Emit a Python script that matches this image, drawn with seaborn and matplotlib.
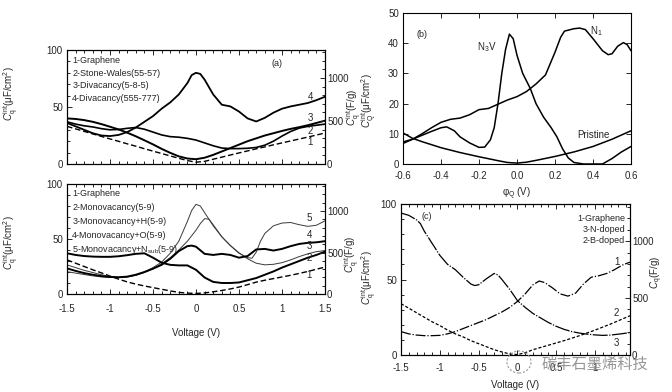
import numpy as np
import pandas as pd
import matplotlib
matplotlib.use("Agg")
import matplotlib.pyplot as plt
import seaborn as sns
from matplotlib.ticker import MultipleLocator
from matplotlib.patches import Ellipse

sns.set_style("ticks")
plt.rcParams['font.family'] = ['Liberation Sans', 'DejaVu Sans']
plt.rcParams['mathtext.fontset'] = 'custom'
plt.rcParams['mathtext.rm'] = 'Liberation Sans'
plt.rcParams['mathtext.it'] = 'Liberation Sans:italic'
plt.rcParams['mathtext.bf'] = 'Liberation Sans:bold'
plt.rcParams['axes.linewidth'] = 0.8
plt.rcParams['axes.edgecolor'] = 'black'

# ---------------- data: panel (a) top ----------------
Va = [-1.5, -1.4, -1.3, -1.2, -1.1, -1.0, -0.9, -0.8, -0.7, -0.6, -0.5, -0.4, -0.3, -0.2, -0.1,
      0.0, 0.1, 0.2, 0.3, 0.4, 0.5, 0.6, 0.7, 0.8, 0.9, 1.0, 1.1, 1.2, 1.3, 1.4, 1.5]
a_graphene = [33, 30.8, 28.6, 26.4, 24.2, 22, 19.9, 17.7, 15.6, 13.4, 11.3, 9.2, 7.1, 5, 3,
              1.6, 2.3, 4.2, 6.0, 7.9, 9.7, 11.5, 13.3, 15.0, 16.8, 18.5, 20.2, 21.9, 23.6, 25.4, 27.2]
a_stonewales = [37, 35, 33.5, 32.5, 31, 30, 30.3, 31.3, 32, 30.5, 28, 25.5, 24, 23.5, 22.5,
                21, 18.5, 16, 14, 13.5, 13.5, 13.8, 14.5, 16.5, 20, 24.5, 28.5, 31.5, 33, 34, 35]
a_div585 = [40, 39.5, 38.5, 37, 35, 32.7, 30.3, 27.5, 24.3, 20.8, 17.2, 13.3, 9.8, 6.7, 4.8,
            4.2, 5.5, 8, 11, 14, 17, 20, 22.5, 25, 27, 29, 30.8, 32.3, 34, 36, 38]
Va_555 = [-1.5, -1.4, -1.3, -1.2, -1.1, -1.0, -0.9, -0.8, -0.7, -0.6, -0.5, -0.4, -0.3, -0.2, -0.1,
          -0.05, 0.0, 0.05, 0.1, 0.2, 0.3, 0.4, 0.5, 0.6, 0.7, 0.8, 0.9, 1.0, 1.1, 1.2, 1.3, 1.4, 1.5]
a_div555 = [36, 33, 30, 27, 25, 24.5, 25.5, 28, 32, 37, 42, 48.5, 54, 61, 71,
            78, 80, 79, 74, 61, 52, 50.5, 46, 40, 37.3, 40.5, 45, 48.5, 50.5, 52, 53.5, 56, 59]
legend_a = ["1-Graphene", "2-Stone-Wales(55-57)", "3-Divacancy(5-8-5)", "4-Divacancy(555-777)"]

# ---------------- data: panel (a) bottom ----------------
m_graphene = [31, 28, 25, 22, 19.2, 16.3, 13.5, 11, 9, 7.3, 5.8, 4.3, 2.8, 1.5, 0.8,
              0.5, 1, 2, 3.2, 4.6, 6.3, 8.5, 10.8, 12.5, 14, 15.5, 17, 18.7, 20.5, 22.5, 24.5]
m_mono = [37, 35.5, 34.5, 34, 33.8, 33.8, 34.3, 35.3, 36.5, 37, 33, 28.5, 26.5, 26, 26,
          22, 15, 11, 10, 10, 10.5, 12.5, 14.5, 17.5, 20.5, 24, 27, 30, 33, 35.5, 38.5]
Vm_H = [-1.5, -1.4, -1.3, -1.2, -1.1, -1.0, -0.9, -0.8, -0.7, -0.6, -0.5, -0.4, -0.3, -0.2, -0.1,
        0.0, 0.05, 0.1, 0.15, 0.2, 0.3, 0.4, 0.5, 0.6, 0.7, 0.8, 0.9, 1.0, 1.1, 1.2, 1.3, 1.4, 1.5]
m_monoH = [26.4, 24, 21.5, 19.5, 17.5, 16, 15.3, 15.5, 17, 19.5, 23, 27.5, 33, 40, 48,
           58, 64, 68.5, 68, 63, 52, 44, 37.5, 32, 28, 26.5, 27, 28.5, 31, 34, 36.5, 38.5, 39.5]
Vm_O = [-1.5, -1.4, -1.3, -1.2, -1.1, -1.0, -0.9, -0.8, -0.7, -0.6, -0.5, -0.4, -0.3, -0.2, -0.1,
        -0.05, 0.0, 0.1, 0.2, 0.3, 0.4, 0.5, 0.6, 0.7, 0.8, 0.9, 1.0, 1.1, 1.2, 1.3, 1.4, 1.5]
m_monoO = [23.3, 21, 19, 17.5, 16.3, 15.5, 15.2, 15.8, 17.5, 20, 23, 26.5, 32, 39, 43.5,
           44, 43, 36.5, 35.5, 36.5, 35.5, 33, 34.5, 40.5, 41, 39.5, 41, 43.5, 45.5, 46.5, 47, 48]
Vm_N = [-1.5, -1.4, -1.3, -1.2, -1.1, -1.0, -0.9, -0.8, -0.7, -0.6, -0.5, -0.4, -0.3, -0.2, -0.1,
        -0.05, 0.0, 0.05, 0.1, 0.2, 0.3, 0.4, 0.5, 0.6, 0.65, 0.7, 0.75, 0.8, 0.9, 1.0, 1.1, 1.2, 1.3, 1.4, 1.5]
m_monoN = [20.3, 19, 17.7, 16.5, 15.5, 15, 15, 15.5, 17, 20, 24, 29, 37, 48, 66,
           76, 81.5, 80, 74, 62, 52, 44, 37, 33, 32.5, 38, 48, 55, 62, 64.5, 65, 63, 61.5, 62.5, 66.5]
legend_m = ["1-Graphene", "2-Monovacancy(5-9)", "3-Monovacancy+H(5-9)",
            "4-Monovacancy+O(5-9)", "5-Monovacancy+N$_{\\rm sub}$(5-9)"]

# ---------------- data: panel (b) ----------------
Vb_pristine = [-0.6, -0.55, -0.5, -0.4, -0.3, -0.2, -0.1, -0.05, 0.0, 0.05, 0.1, 0.2, 0.3, 0.4, 0.5, 0.6]
b_pristine = [10.3, 8.5, 7.4, 5.4, 3.8, 2.4, 1.1, 0.5, 0.3, 0.6, 1.2, 2.5, 4.0, 5.8, 8.2, 11.0]
Vb_n1 = [-0.6, -0.55, -0.5, -0.45, -0.4, -0.35, -0.3, -0.25, -0.2, -0.15, -0.1, -0.05, 0.0, 0.05, 0.1,
         0.15, 0.2, 0.23, 0.25, 0.3, 0.33, 0.36, 0.4, 0.45, 0.48, 0.5, 0.53, 0.56, 0.58, 0.6]
b_n1 = [6.8, 8.2, 10, 12, 13.8, 14.8, 15.2, 16.3, 18, 18.4, 19.8, 21.2, 22.3, 24, 26.5,
        29.5, 37, 42, 44, 44.8, 45, 44.5, 41.5, 37.5, 36.2, 36.5, 39, 40.2, 39.5, 37.5]
Vb_n3v = [-0.6, -0.55, -0.5, -0.45, -0.4, -0.37, -0.33, -0.3, -0.25, -0.2, -0.17, -0.14, -0.12, -0.1,
          -0.08, -0.06, -0.04, -0.02, 0.0, 0.03, 0.07, 0.1, 0.14, 0.18, 0.21, 0.24, 0.27, 0.3, 0.35,
          0.45, 0.5, 0.55, 0.6]
b_n3v = [7.3, 8.2, 9.5, 10.8, 12, 12.3, 11, 9, 7, 5.5, 5.6, 8, 12, 20,
         30, 38, 43, 41.5, 36, 30, 25, 20, 15.5, 12, 9, 5, 2, 0.5, 0,
         0, 1.8, 4, 5.8]

# ---------------- data: panel (c) ----------------
Vc_1 = [-1.5, -1.4, -1.3, -1.2, -1.1, -1.0, -0.9, -0.8, -0.7, -0.6, -0.5, -0.4, -0.3, -0.2, -0.1,
        0.0, 0.1, 0.2, 0.28, 0.35, 0.45, 0.55, 0.65, 0.75, 0.85, 0.95, 1.05, 1.15, 1.25, 1.35, 1.45]
c_curve1 = [15.5, 14, 13.2, 12.8, 12.8, 13, 14, 15.5, 17.5, 19.5, 21.5, 23.5, 26, 28.5, 31.5,
            35.5, 40.5, 46.5, 49, 48, 44.5, 40.5, 39, 41, 47, 51.5, 52.5, 54, 56.5, 59.5, 61.5]
Vc_2 = [-1.5, -1.4, -1.3, -1.2, -1.1, -1.0, -0.9, -0.8, -0.7, -0.6, -0.5, -0.4, -0.3, -0.2, -0.1,
        0.0, 0.1, 0.2, 0.4, 0.6, 0.8, 1.0, 1.2, 1.45]
c_curve2 = [34, 31, 28, 25, 22, 19.5, 16.5, 14, 12, 9.5, 7.5, 5.5, 3.5, 2, 0.7,
            0.3, 1.5, 3.5, 6.5, 9.5, 12.8, 16.5, 20.5, 26]
Vc_3 = [-1.5, -1.4, -1.3, -1.25, -1.2, -1.1, -1.0, -0.9, -0.8, -0.7, -0.6, -0.55, -0.5, -0.4, -0.3,
        -0.25, -0.2, -0.1, 0.0, 0.1, 0.2, 0.3, 0.4, 0.5, 0.6, 0.7, 0.8, 0.9, 1.0, 1.1, 1.2, 1.3, 1.45]
c_curve3 = [94, 92.5, 89.5, 87, 82, 74, 66, 60, 56.5, 51.5, 47, 46, 46.5, 50.5, 54,
            53, 50, 43.5, 36, 31.5, 27.5, 24.5, 21.5, 19, 17, 15.5, 14.5, 13.8, 13.3, 13, 13.2, 13.8, 14.8]
legend_c = ["1-Graphene", "3-N-doped", "2-B-doped"]

CONV = 13.26  # F/g per uF/cm2 (right axis)

W, H = 672, 392
fig = plt.figure(figsize=(W / 100, H / 100), dpi=100)


def box(l, r, t, b):
    return [l / W, (H - b) / H, (r - l) / W, (b - t) / H]


TFS = 7
LFS = 6.5

ylab_q = "$C_{\\rm q}^{\\rm int}$(μF/cm$^2$)"
ylab_fg = "$C_{\\rm q}^{\\rm int}$(F/g)"


def style_axis(ax, xmaj, xmin, ymaj, ymin, xpad):
    ax.xaxis.set_major_locator(MultipleLocator(xmaj))
    ax.yaxis.set_major_locator(MultipleLocator(ymaj))
    if xmin:
        ax.xaxis.set_minor_locator(MultipleLocator(xmin))
    if ymin:
        ax.yaxis.set_minor_locator(MultipleLocator(ymin))
    ax.tick_params(which='both', direction='in', top=True, labelsize=TFS, width=0.7)
    ax.tick_params(which='major', length=3.5)
    ax.tick_params(which='minor', length=2)
    ax.tick_params(axis='x', pad=xpad)
    ax.tick_params(axis='y', pad=3)
    for s in ax.spines.values():
        s.set_visible(True)
        s.set_linewidth(0.8)


def right_axis(ax, label, ly):
    tw = ax.twinx()
    tw.set_ylim(0, 100 * CONV)
    tw.yaxis.set_major_locator(MultipleLocator(500))
    tw.yaxis.set_minor_locator(MultipleLocator(100))
    tw.tick_params(which='both', direction='in', labelsize=TFS, width=0.7, pad=1.5)
    tw.tick_params(which='major', length=3.5)
    tw.tick_params(which='minor', length=2)
    tw.set_ylabel(label, fontsize=TFS)
    tw.yaxis.set_label_coords(ly[0], ly[1])
    ax.tick_params(which='both', right=False)
    return tw


def line(ax, x, y, lw=1.3, color='black', ls='-'):
    sns.lineplot(x=x, y=y, ax=ax, color=color, linewidth=lw, linestyle=ls,
                 estimator=None, sort=False, legend=False)


# ---------------- panel (a) top ----------------
axA = fig.add_axes(box(67, 325, 50, 164))
line(axA, Va, a_graphene, lw=1.0, ls=(0, (4, 2)))
line(axA, Va, a_stonewales, lw=1.2)
line(axA, Va, a_div585, lw=1.4)
line(axA, Va_555, a_div555, lw=1.3)
axA.set_xlim(-1.5, 1.5)
axA.set_ylim(0, 100)
style_axis(axA, 0.5, 0.1, 50, 10, 6)
axA.tick_params(axis='x', labelbottom=False)
axA.set_ylabel(ylab_q, fontsize=TFS)
axA.yaxis.set_label_coords(-0.178, 0.62)
axA.set_xlabel("")
right_axis(axA, ylab_fg, (1.075, 0.5))
for i, t in enumerate(legend_a):
    axA.text(0.02, [0.906, 0.796, 0.687, 0.576][i], t, transform=axA.transAxes,
             fontsize=LFS, va='center', ha='left')
axA.text(0.813, 0.883, "(a)", transform=axA.transAxes, fontsize=LFS, ha='center', va='center')
for t, yy in zip(["4", "3", "2", "1"], [0.59, 0.405, 0.29, 0.196]):
    axA.text(0.942, yy, t, transform=axA.transAxes, fontsize=LFS + 0.5, ha='center', va='center')

# ---------------- panel (a) bottom ----------------
axM = fig.add_axes(box(67, 325, 184, 294))
line(axM, Va, m_graphene, lw=1.0, ls=(0, (4, 2)))
line(axM, Vm_H, m_monoH, lw=0.7, color='#3a3a3a')
line(axM, Vm_N, m_monoN, lw=0.7, color='#3a3a3a')
line(axM, Va, m_mono, lw=1.4)
line(axM, Vm_O, m_monoO, lw=1.4)
axM.set_xlim(-1.5, 1.5)
axM.set_ylim(0, 100)
style_axis(axM, 0.5, 0.1, 50, 10, 7)
axM.set_xticks([-1.5, -1, -0.5, 0, 0.5, 1, 1.5])
axM.set_xticklabels(["-1.5", "-1", "-0.5", "0", "0.5", "1", "1.5"])
axM.set_xlabel("Voltage (V)", fontsize=TFS)
axM.xaxis.set_label_coords(0.5, -0.31)
axM.set_ylabel(ylab_q, fontsize=TFS)
axM.yaxis.set_label_coords(-0.178, 0.47)
right_axis(axM, ylab_fg, (1.07, 0.36))
for i, t in enumerate(legend_m):
    axM.text(0.02, [0.915, 0.785, 0.657, 0.53, 0.4][i], t, transform=axM.transAxes,
             fontsize=LFS, va='center', ha='left')
for t, yy in zip(["5", "4", "3", "2", "1"], [0.688, 0.536, 0.436, 0.325, 0.173]):
    axM.text(0.938, yy, t, transform=axM.transAxes, fontsize=LFS + 0.5, ha='center', va='center')

# ---------------- panel (b) ----------------
axB = fig.add_axes(box(403, 631, 13, 164))
line(axB, Vb_pristine, b_pristine, lw=1.1)
line(axB, Vb_n1, b_n1, lw=1.1)
line(axB, Vb_n3v, b_n3v, lw=1.1)
axB.set_xlim(-0.6, 0.6)
axB.set_ylim(0, 50)
style_axis(axB, 0.2, None, 10, None, 5)
axB.tick_params(which='both', right=True)
axB.set_xticks([-0.6, -0.4, -0.2, 0.0, 0.2, 0.4, 0.6])
axB.set_xticklabels(["-0.6", "-0.4", "-0.2", "0.0", "0.2", "0.4", "0.6"])
axB.set_xlabel("φ$_{\\rm Q}$ (V)", fontsize=TFS)
axB.xaxis.set_label_coords(0.5, -0.145)
axB.set_ylabel("$C_{\\rm Q}^{\\rm int}$(μF/cm$^2$)", fontsize=TFS)
axB.yaxis.set_label_coords(-0.105, 0.42)
axB.text(-0.5, 43, "(b)", fontsize=LFS, ha='center', va='center')
axB.text(-0.16, 38.6, "N$_3$V", fontsize=LFS + 0.5, ha='center', va='center')
axB.text(0.42, 44, "N$_1$", fontsize=LFS + 0.5, ha='center', va='center')
axB.text(0.4, 9.6, "Pristine", fontsize=LFS + 0.5, ha='center', va='center')

# ---------------- panel (c) ----------------
axC = fig.add_axes(box(401, 630, 204, 355))
line(axC, Vc_3, c_curve3, lw=0.9, ls=(0, (12, 1.2, 1, 1.2)))
line(axC, Vc_1, c_curve1, lw=0.9, ls=(0, (8, 1.5, 1, 1.5)))
line(axC, Vc_2, c_curve2, lw=0.9, ls=(0, (2.5, 1.5)))
axC.set_xlim(-1.5, 1.45)
axC.set_ylim(0, 100)
style_axis(axC, 0.5, 0.1, 50, 10, 6)
axC.set_xticks([-1.5, -1, -0.5, 0, 0.5, 1])
axC.set_xticklabels(["-1.5", "-1", "-0.5", "0", "0.5", "1"])
axC.set_xlabel("Voltage (V)", fontsize=TFS)
axC.xaxis.set_label_coords(0.5, -0.165)
axC.set_ylabel(ylab_q, fontsize=TFS)
axC.yaxis.set_label_coords(-0.095, 0.51)
right_axis(axC, "$C_{\\rm q}$(F/g)", (1.08, 0.55))
for i, t in enumerate(legend_c):
    axC.text(0.978, [0.905, 0.832, 0.755][i], t, transform=axC.transAxes,
             fontsize=LFS, va='center', ha='right')
axC.text(0.114, 0.914, "(c)", transform=axC.transAxes, fontsize=LFS, ha='center', va='center')
for t, yy in zip(["1", "2", "3"], [0.618, 0.276, 0.077]):
    axC.text(0.942, yy, t, transform=axC.transAxes, fontsize=LFS + 0.5, ha='center', va='center')

# watermark
fig.patches.append(Ellipse((519 / W, (H - 362) / H), 24 / W, 22 / H, transform=fig.transFigure,
                           fill=False, edgecolor='#9a9a9a', lw=0.8, ls=(0, (2, 1.5))))
fig.text(595 / W, (H - 364) / H, "碳丰石墨烯科技", family=['Noto Sans CJK SC', 'DejaVu Sans'],
         fontsize=11, color='#8c8c8c', ha='center', va='center', alpha=0.9)

fig.savefig("out.png", dpi=100)
